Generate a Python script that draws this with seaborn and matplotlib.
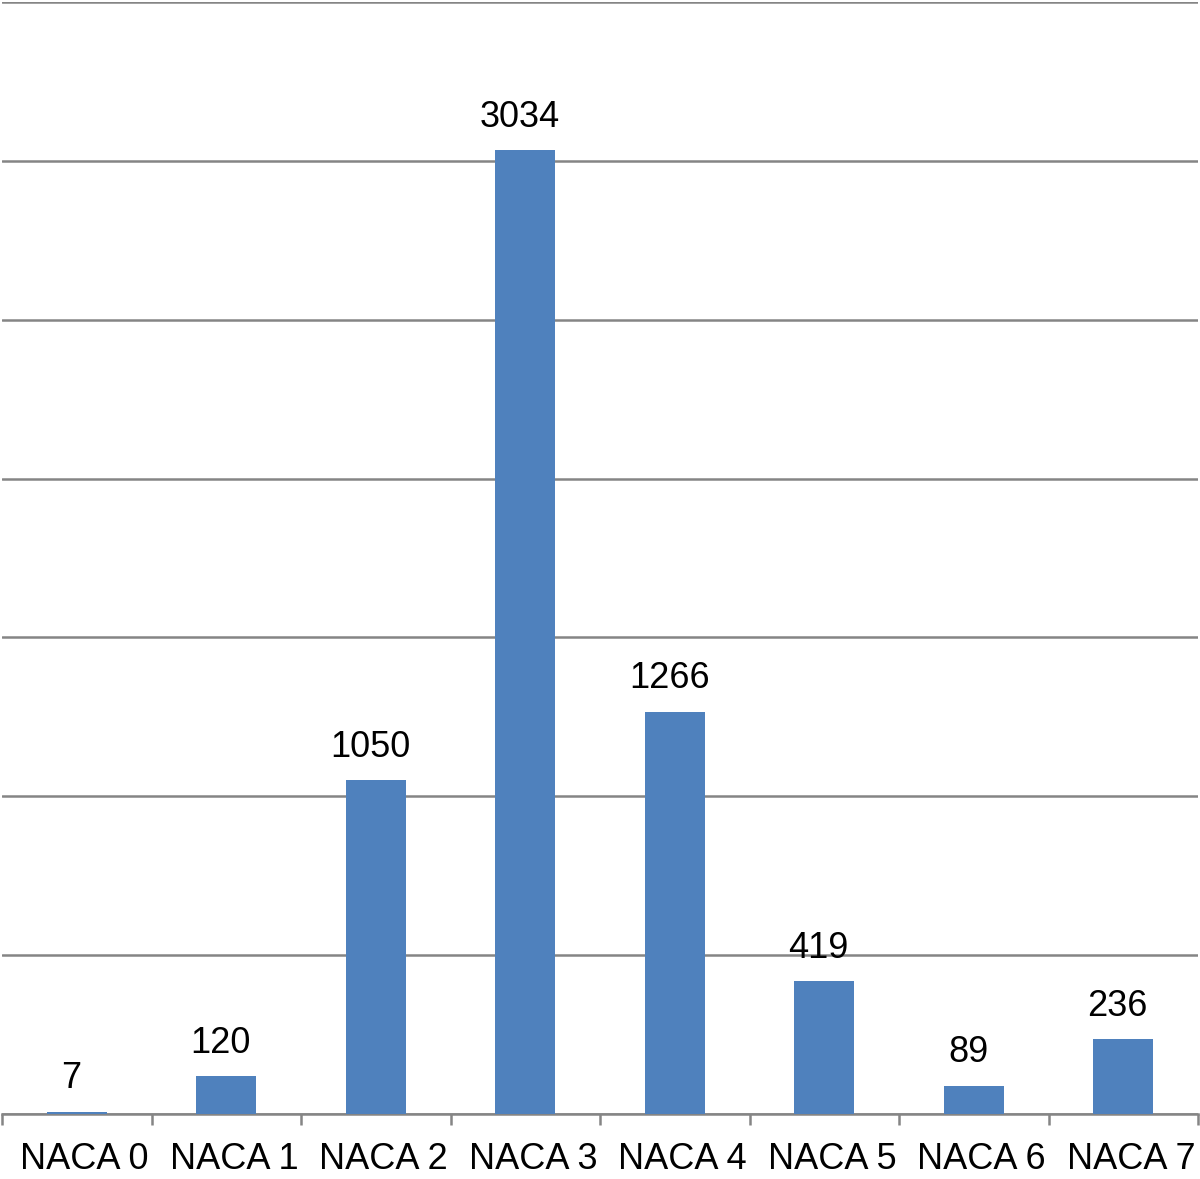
import matplotlib
matplotlib.use("Agg")
import matplotlib.pyplot as plt
import matplotlib.transforms as mtransforms
import seaborn as sns
import pandas as pd
import numpy as np

# data
categories = ["NACA 0", "NACA 1", "NACA 2", "NACA 3", "NACA 4", "NACA 5", "NACA 6", "NACA 7"]
counts = [7, 120, 1050, 3034, 1266, 419, 89, 236]

df = pd.DataFrame({"cat": categories, "n": counts})

sns.set_style("white", {"xtick.bottom": True, "text.color": "black",
                        "xtick.color": "black", "axes.labelcolor": "black"})
plt.rcParams["font.family"] = ["Liberation Sans", "DejaVu Sans"]

fig = plt.figure(figsize=(12, 11.79), dpi=100)
ax = fig.add_axes([2 / 1200, 65 / 1179, 1196 / 1200, 1112 / 1179])

sns.barplot(data=df, x="cat", y="n", color="#4F81BD", saturation=1, width=0.4,
            edgecolor="none", linewidth=0, ax=ax, zorder=3)

ax.set_ylim(0, 3500)
ax.set_xlim(-0.5, len(categories) - 0.5)
ax.set_yticks(np.arange(0, 3501, 500))
ax.set_yticklabels([])
ax.tick_params(axis="y", length=0)
ax.grid(axis="y", color="#858585", linewidth=1.8, zorder=0)
ax.grid(axis="x", visible=False)

for s in ["left", "right", "top"]:
    ax.spines[s].set_visible(False)
ax.spines["bottom"].set_color("#858585")
ax.spines["bottom"].set_linewidth(1.8)

ax.set_xticks(np.arange(-0.5, len(categories)), minor=True)
ax.tick_params(axis="x", which="minor", bottom=True, length=8, width=1.8, color="#858585")
ax.tick_params(axis="x", which="major", length=0, pad=20, labelsize=26, labelcolor="black")
shift = mtransforms.ScaledTranslation(8 / 100, 0, fig.dpi_scale_trans)
for lab in ax.get_xticklabels():
    lab.set_transform(lab.get_transform() + shift)
ax.set_xlabel("")
ax.set_ylabel("")

for i, v in enumerate(counts):
    ax.annotate(str(v), (i, v), xytext=(-4, 11), textcoords="offset points",
                ha="center", va="bottom", fontsize=26, color="black")

fig.savefig("out.png", dpi=100)
